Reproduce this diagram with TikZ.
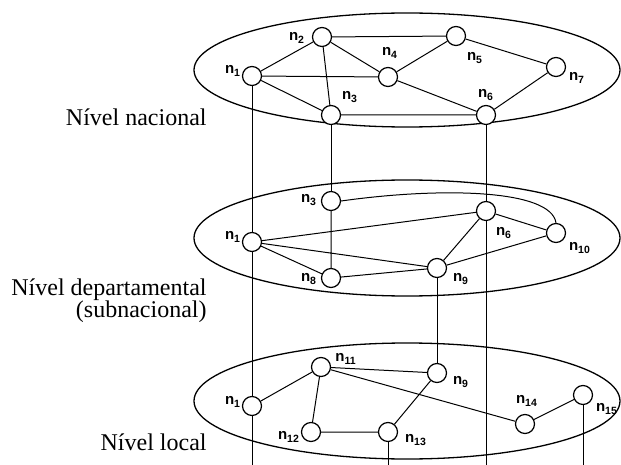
\documentclass[tikz,border=0pt]{standalone}
\usepackage{fontspec}
\setsansfont{Liberation Sans}
\newfontfamily\lvlfont{Liberation Serif}
\newcommand{\lab}[1]{n\textsubscript{#1}}
\tikzset{
  vtx/.style={circle, draw, fill=white, line width=0.6pt, minimum size=9.5pt, inner sep=0pt},
  lbl/.style={inner sep=0pt, font=\sffamily\bfseries\fontsize{7.5}{8}\selectfont},
  lvl/.style={inner sep=0pt, anchor=base east, font=\lvlfont\fontsize{12}{13}\selectfont},
  plane/.style={line width=0.65pt},
  edge/.style={line width=0.5pt}
}
\begin{document}
\begin{tikzpicture}[x=0.5pt, y=-0.5pt]
\useasboundingbox (0,0) rectangle (621,465);
% planos
\draw[plane] (407,70) ellipse [x radius=213, y radius=57];
\draw[plane] (407,238) ellipse [x radius=213, y radius=58];
\draw[plane] (407,401) ellipse [x radius=213, y radius=58];
% nivel nacional
\node[vtx] (a1) at (252,76) {};
\node[vtx] (a2) at (322,37) {};
\node[vtx] (a3) at (331,115) {};
\node[vtx] (a4) at (388,77) {};
\node[vtx] (a5) at (456,36) {};
\node[vtx] (a6) at (486,115) {};
\node[vtx] (a7) at (556,67) {};
\node[lbl] (ta1) at (233,71) {\lab{1}};
\node[lbl] (ta2) at (297,38) {\lab{2}};
\node[lbl] (ta3) at (350,97) {\lab{3}};
\node[lbl] (ta4) at (390,53) {\lab{4}};
\node[lbl] (ta5) at (475,58) {\lab{5}};
\node[lbl] (ta6) at (486,95) {\lab{6}};
\node[lbl] (ta7) at (577,78) {\lab{7}};
% nivel departamental
\node[vtx] (b1) at (252,242) {};
\node[vtx] (b3) at (331,201) {};
\node[vtx] (b6) at (486,211) {};
\node[vtx] (b8) at (331,278) {};
\node[vtx] (b9) at (437,268) {};
\node[vtx] (b10) at (556,233) {};
\node[lbl] (tb1) at (233,237) {\lab{1}};
\node[lbl] (tb3) at (309,200) {\lab{3}};
\node[lbl] (tb6) at (504,233) {\lab{6}};
\node[lbl] (tb8) at (309,279) {\lab{8}};
\node[lbl] (tb9) at (461,279) {\lab{9}};
\node[lbl] (tb10) at (580,248) {\lab{10}};
% nivel local
\node[vtx] (c1) at (252,406) {};
\node[vtx] (c9) at (437,373) {};
\node[vtx] (c11) at (321,367) {};
\node[vtx] (c12) at (311,432) {};
\node[vtx] (c13) at (388,432) {};
\node[vtx] (c14) at (525,424) {};
\node[vtx] (c15) at (583,395) {};
\node[lbl] (tc1) at (233,402) {\lab{1}};
\node[lbl] (tc9) at (461,382) {\lab{9}};
\node[lbl] (tc11) at (346,359) {\lab{11}};
\node[lbl] (tc12) at (289,437) {\lab{12}};
\node[lbl] (tc13) at (416,440) {\lab{13}};
\node[lbl] (tc14) at (527,401) {\lab{14}};
\node[lbl] (tc15) at (607,409) {\lab{15}};
% extremos inferiores
\coordinate (e1) at (252,465);
\coordinate (e6) at (486,465);
\coordinate (e13) at (388,465);
\coordinate (e15) at (583,465);
% aristas
\draw[edge] (a1) -- (a2) (a1) -- (a4) (a1) -- (a3) (a2) -- (a5) (a2) -- (a4)
  (a2) -- (a3) (a4) -- (a5) (a4) -- (a6) (a3) -- (a6) (a5) -- (a7) (a6) -- (a7);
\draw[edge] (b1) -- (b6) (b1) -- (b9) (b1) -- (b8) (b8) -- (b9) (b3) -- (b8)
  (b6) -- (b9) (b6) -- (b10) (b9) -- (b10);
\draw[edge] (b3.east) .. controls (440,187) and (551,189) .. (b10.north);
\draw[edge] (c1) -- (c11) (c11) -- (c9) (c11) -- (c14) (c11) -- (c12)
  (c12) -- (c13) (c13) -- (c9) (c14) -- (c15);
% verticales
\draw[edge] (a1) -- (b1) (b1) -- (c1) (c1) -- (e1);
\draw[edge] (a3) -- (b3);
\draw[edge] (a6) -- (b6) (b6) -- (e6);
\draw[edge] (b9) -- (c9);
\draw[edge] (c13) -- (e13) (c15) -- (e15);
% niveles
\node[lvl] (lnac) at (207,126) {Nível nacional};
\node[lvl] (ldep) at (207,295) {Nível departamental};
\node[lvl] (lsub) at (207,317) {(subnacional)};
\node[lvl] (lloc) at (207,450) {Nível local};
\end{tikzpicture}
\end{document}
